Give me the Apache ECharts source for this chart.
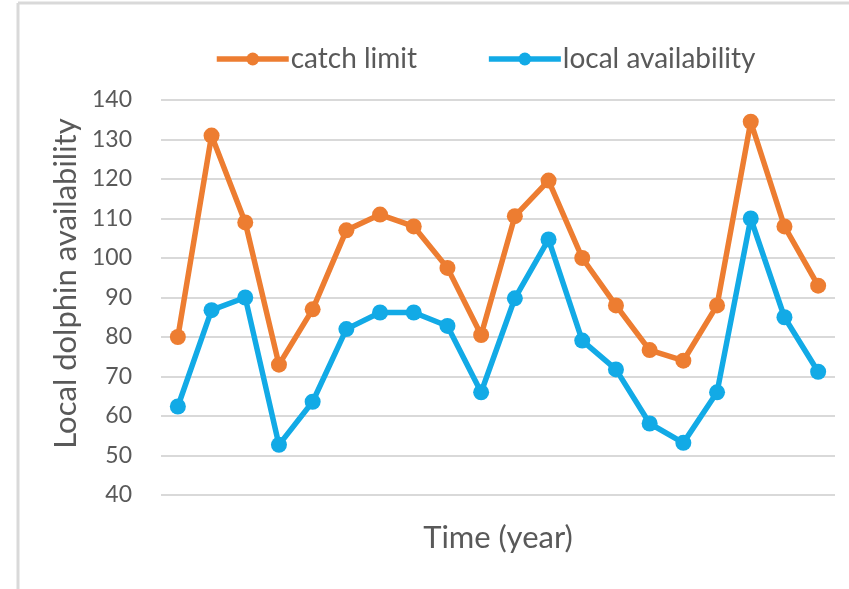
<!DOCTYPE html>
<html>
<head>
<meta charset="utf-8">
<script src="https://cdn.jsdelivr.net/npm/echarts@6/dist/echarts.min.js"></script>
<style>
  html, body { margin: 0; padding: 0; background: #fff; }
  #chart { width: 849px; height: 589px; }
</style>
</head>
<body>
<div id="chart"></div>
<script>
// data
const years = ['1', '2', '3', '4', '5', '6', '7', '8', '9', '10',
  '11', '12', '13', '14', '15', '16', '17', '18', '19', '20'];
const catchLimit = [80, 131, 109, 73, 87, 107, 111, 108, 97.5, 80.5,
  110.6, 119.6, 100, 88, 76.7, 74, 88, 134.5, 108, 93];
const localAvailability = [62.4, 86.8, 90, 52.7, 63.6, 82, 86.2, 86.2, 82.8, 66,
  89.8, 104.7, 79.1, 71.8, 58.1, 53.2, 66, 110, 85, 71.2];

const FONT = 'Lato';
const TEXT = '#595959';

const chart = echarts.init(document.getElementById('chart'));

const lineSeries = (name, data, color) => ({
  name: name,
  type: 'line',
  data: data,
  symbol: 'circle',
  symbolSize: 16,
  itemStyle: { color: color },
  lineStyle: { color: color, width: 5.5 },
  emphasis: { disabled: true },
});

chart.setOption({
  animation: false,
  textStyle: { fontFamily: FONT, color: TEXT },
  legend: {
    top: 45,
    left: 214,
    padding: 0,
    itemWidth: 72,
    itemHeight: 16,
    itemGap: 69,
    lineStyle: { width: 5.5 },
    textStyle: { fontFamily: FONT, fontSize: 28, color: TEXT, padding: [0, 0, 0, -3] },
    data: ['catch limit', 'local availability'],
  },
  grid: { left: 161, right: 14, top: 100, bottom: 94 },
  xAxis: {
    type: 'category',
    data: years,
    boundaryGap: true,
    name: 'Time (year)',
    nameLocation: 'middle',
    nameGap: 27,
    nameTextStyle: { fontFamily: FONT, fontSize: 31, color: TEXT },
    axisLine: { show: false },
    axisTick: { show: false },
    axisLabel: { show: false },
  },
  yAxis: {
    type: 'value',
    min: 40,
    max: 140,
    interval: 10,
    name: 'Local dolphin availability',
    nameLocation: 'middle',
    nameRotate: 90,
    nameGap: 67,
    nameTextStyle: { fontFamily: FONT, fontSize: 31, color: TEXT, padding: [0, 0, 0, 28] },
    axisLine: { show: false },
    axisTick: { show: false },
    axisLabel: { fontFamily: FONT, fontSize: 23, color: TEXT, margin: 29 },
    splitLine: { lineStyle: { color: '#d9d9d9', width: 2 } },
  },
  graphic: [
    { type: 'line', shape: { x1: 18, y1: 3, x2: 849, y2: 3 }, style: { stroke: '#d9d9d9', lineWidth: 3 } },
    { type: 'line', shape: { x1: 18, y1: 3, x2: 18, y2: 589 }, style: { stroke: '#d9d9d9', lineWidth: 3 } },
  ],
  series: [
    lineSeries('catch limit', catchLimit, '#ed7d31'),
    lineSeries('local availability', localAvailability, '#12aae6'),
  ],
});
</script>
</body>
</html>
